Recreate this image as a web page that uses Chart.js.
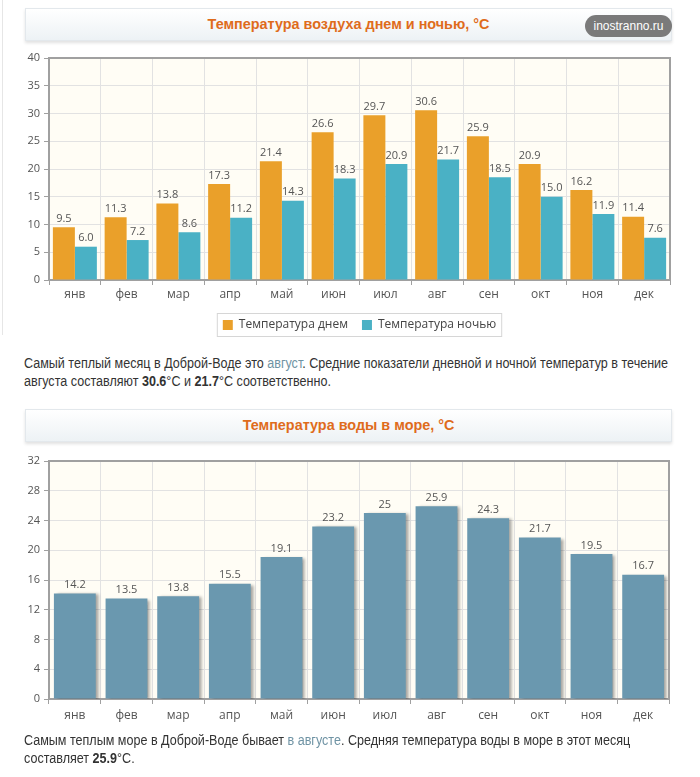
<!DOCTYPE html>
<html><head><meta charset="utf-8">
<script src="https://cdn.jsdelivr.net/npm/chart.js@4/dist/chart.umd.min.js"></script>
<style>
body{margin:0;width:700px;height:777px;background:#fff;position:relative;overflow:hidden;font-family:"Liberation Sans",Arial,sans-serif}
.edge{position:absolute;left:2px;top:0;width:1px;height:335px;background:#e6e6e6}
.hdr{position:absolute;left:25px;width:645px;height:31px;border:1px solid #e3e8ec;background:linear-gradient(#ffffff,#edf2f5);box-shadow:0 2px 3px rgba(0,0,0,.12);text-align:center;line-height:31px;font-weight:bold;font-size:14.4px;color:#df6c1c}
.badge{position:absolute;left:585px;top:15px;width:87px;height:22px;border-radius:11px;background:#7a7a7a;color:#fff;font-size:12px;line-height:22px;text-align:center}
.p{position:absolute;left:24px;font-size:14px;line-height:18px;color:#333;white-space:nowrap;transform:scaleX(0.897);transform-origin:0 0}
.p a{color:#6f93a4;text-decoration:none}
.cv{position:absolute;left:0;width:700px}
</style></head>
<body>
<div class="edge"></div>
<div class="hdr" style="top:8px">Температура воздуха днем и ночью, °C</div>
<div class="badge">inostranno.ru</div>
<div class="cv" style="top:45px;height:300px"><canvas id="c1" width="700" height="300"></canvas></div>
<div class="p" style="top:354px">Самый теплый месяц в Доброй-Воде это <a>август</a>. Средние показатели дневной и ночной температур в течение<br>августа составляют <b>30.6</b>°C и <b>21.7</b>°C соответственно.</div>
<div class="hdr" style="top:409px">Температура воды в море, °C</div>
<div class="cv" style="top:447px;height:285px"><canvas id="c2" width="700" height="285"></canvas></div>
<div class="p" style="top:731px">Самым теплым море в Доброй-Воде бывает <a>в августе</a>. Средняя температура воды в море в этот месяц<br>составляет <b>25.9</b>°C.</div>
<script>
const months = ['янв','фев','мар','апр','май','июн','июл','авг','сен','окт','ноя','дек'];
const dayTemp = [9.5, 11.3, 13.8, 17.3, 21.4, 26.6, 29.7, 30.6, 25.9, 20.9, 16.2, 11.4];
const nightTemp = [6.0, 7.2, 8.6, 11.2, 14.3, 18.3, 20.9, 21.7, 18.5, 15.0, 11.9, 7.6];
const seaTemp = [14.2, 13.5, 13.8, 15.5, 19.1, 23.2, 25, 25.9, 24.3, 21.7, 19.5, 16.7];

const tickFont = {family:"'Open Sans', sans-serif", size:11};

const plotFrame = {
  id:'plotFrame',
  beforeDraw(chart){
    const {ctx, chartArea:a} = chart;
    ctx.save();
    ctx.fillStyle = '#fffdf5';
    ctx.fillRect(a.left, a.top, a.right-a.left, a.bottom-a.top);
    ctx.restore();
  },
  afterDraw(chart){
    const {ctx, chartArea:a} = chart;
    ctx.save();
    ctx.strokeStyle = '#a0a0a0';
    ctx.lineWidth = 2;
    ctx.beginPath();
    ctx.moveTo(a.left, a.top); ctx.lineTo(a.right, a.top); ctx.lineTo(a.right, a.bottom);
    ctx.stroke();
    ctx.restore();
  }
};

const valueLabels = {
  id:'valueLabels',
  afterDraw(chart, args, opts){
    const ctx = chart.ctx;
    ctx.save();
    ctx.font = "11px 'Open Sans', sans-serif";
    ctx.fillStyle = '#555';
    ctx.textAlign = 'center';
    ctx.textBaseline = 'bottom';
    chart.data.datasets.forEach((ds, i) => {
      const meta = chart.getDatasetMeta(i);
      meta.data.forEach((el, j) => {
        const v = ds.data[j];
        const txt = opts.fixed ? v.toFixed(1) : String(v);
        ctx.fillText(txt, el.x, el.y - (opts.gap || 3));
      });
    });
    ctx.restore();
  }
};

const legendBox = {
  id:'legendBox',
  beforeDraw(chart){
    const lg = chart.legend;
    if (!lg || !lg.legendHitBoxes || !lg.legendHitBoxes.length) return;
    const hb = lg.legendHitBoxes;
    let l = Infinity, r = -Infinity, t = Infinity, b = -Infinity;
    hb.forEach(h => { l = Math.min(l, h.left); r = Math.max(r, h.left + h.width); t = Math.min(t, h.top); b = Math.max(b, h.top + h.height); });
    const ctx = chart.ctx;
    ctx.save();
    ctx.fillStyle = '#fff';
    ctx.strokeStyle = '#d6d6d6';
    ctx.lineWidth = 1;
    ctx.fillRect(l - 5.5, t - 5.5, r - l + 11, b - t + 11);
    ctx.strokeRect(l - 5.5, t - 5.5, r - l + 11, b - t + 11);
    ctx.restore();
  }
};

const barShadow = {
  id:'barShadow',
  beforeDatasetsDraw(chart){
    const ctx = chart.ctx;
    ctx.save();
    ctx.shadowColor = 'rgba(0,0,0,0.35)';
    ctx.shadowOffsetX = 3;
    ctx.shadowOffsetY = 1;
    ctx.shadowBlur = 3;
  },
  afterDatasetsDraw(chart){ chart.ctx.restore(); }
};

function scales(max, step, xh, xpad){
  return {
    x: {
      grid:{color:'#e2e2e2', tickColor:'#a0a0a0', tickLength:5, offset:true},
      border:{color:'#a0a0a0', width:2},
      ticks:{font:{family:"'Open Sans', sans-serif", size:12}, color:'#555', padding:xpad},
      afterFit(axis){ axis.height = xh; }
    },
    y: {
      min:0, max:max,
      grid:{color:'#e2e2e2', tickColor:'#a0a0a0', tickLength:5},
      border:{color:'#a0a0a0', width:2},
      ticks:{stepSize:step, font:tickFont, color:'#555', padding:4},
      afterFit(axis){ axis.width = 40; }
    }
  };
}

new Chart(document.getElementById('c1'), {
  type:'bar',
  data:{
    labels: months,
    datasets:[
      {label:'Температура днем', data: dayTemp, backgroundColor:'#eaa02a', categoryPercentage:0.85, barPercentage:1},
      {label:'Температура ночью', data: nightTemp, backgroundColor:'#4ab1c5', categoryPercentage:0.85, barPercentage:1}
    ]
  },
  options:{
    responsive:false, animation:false,
    layout:{padding:{left:9, right:30, top:13, bottom:4}},
    scales: scales(40, 5, 25, 2),
    plugins:{
      legend:{position:'bottom', fullSize:false, labels:{boxWidth:10, boxHeight:10, padding:14, color:'#444', font:{family:"'Open Sans', sans-serif", size:12}}},
      tooltip:{enabled:false},
      valueLabels:{fixed:true, gap:3}
    }
  },
  plugins:[plotFrame, legendBox, valueLabels]
});

new Chart(document.getElementById('c2'), {
  type:'bar',
  data:{
    labels: months,
    datasets:[
      {label:'Температура воды', data: seaTemp, backgroundColor:'#6a98af', categoryPercentage:0.81, barPercentage:1}
    ]
  },
  options:{
    responsive:false, animation:false,
    layout:{padding:{left:9, right:31, top:14, bottom:0}},
    scales: scales(32, 4, 33, 4),
    plugins:{
      legend:{display:false},
      tooltip:{enabled:false},
      valueLabels:{fixed:false, gap:3}
    }
  },
  plugins:[plotFrame, barShadow, valueLabels]
});
</script>
</body></html>
